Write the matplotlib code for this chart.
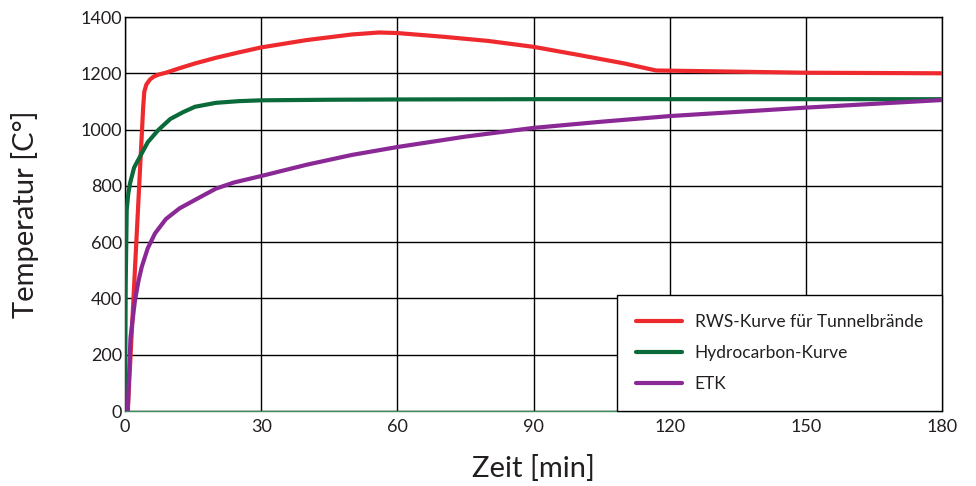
import numpy as np
import matplotlib.pyplot as plt

# Werte (Zeit in min, Temperatur in °C)
rws_zeit = [0.6, 4.0, 4.25, 4.7, 5.5, 6.3, 7.3, 9.0, 12, 15.4, 20, 25, 30, 40, 50, 56, 60, 70, 80, 90, 100, 110, 117, 130, 150, 180]
rws_temp = [0, 1080, 1135, 1160, 1178, 1188, 1195, 1202, 1218, 1235, 1255, 1274, 1292, 1318, 1338, 1345, 1343, 1330, 1315, 1294, 1265, 1235, 1210, 1207, 1202, 1200]

hc_zeit = [0.0, 0.15, 0.37, 0.7, 1.1, 2.0, 3.3, 5.0, 7.3, 10, 12.8, 15.4, 20, 25, 30, 45, 60, 90, 120, 180]
hc_temp = [0, 450, 714, 770, 809, 865, 904, 955, 998, 1038, 1062, 1081, 1095, 1101, 1104, 1106, 1107, 1108, 1108, 1108]

etk_zeit = [0.6, 1.2, 2.2, 3.0, 3.7, 5.0, 6.6, 9.0, 12, 15.4, 20, 24, 30, 40, 50, 60, 75, 90, 105, 120, 150, 180]
etk_temp = [0, 260, 394, 465, 513, 578, 631, 682, 720, 750, 790, 812, 835, 875, 910, 938, 975, 1006, 1028, 1048, 1078, 1105]

x_ticks = [0, 30, 60, 90, 120, 150, 180]
y_ticks = [0, 200, 400, 600, 800, 1000, 1200, 1400]

plt.rcParams['font.family'] = ['Lato', 'DejaVu Sans']

fig = plt.figure(figsize=(9.76, 4.86), dpi=100)
ax = fig.add_axes([0.1281, 0.1543, 0.8371, 0.8107])

ax.plot(rws_zeit, rws_temp, color='#ee2a2f', lw=3.0, label='RWS-Kurve für Tunnelbrände', solid_capstyle='round', zorder=3)
ax.plot(hc_zeit, hc_temp, color='#0b6a3a', lw=3.0, label='Hydrocarbon-Kurve', solid_capstyle='round', zorder=3)
ax.plot(etk_zeit, etk_temp, color='#8a2896', lw=3.0, label='ETK', solid_capstyle='round', zorder=3)

ax.set_xlim(0, 180)
ax.set_ylim(0, 1400)
ax.set_xticks(x_ticks)
ax.set_yticks(y_ticks)
ax.tick_params(length=0, labelsize=13, colors='#231f20')
ax.tick_params(axis='x', pad=6)
ax.tick_params(axis='y', pad=2)
ax.grid(True, color='black', lw=1.0)
for s in ax.spines.values():
    s.set_color('black')
    s.set_linewidth(1.0)
ax.spines['bottom'].set_color('#3d8a5a')

ax.set_xlabel('Zeit [min]', fontsize=21, color='#231f20', labelpad=14)
ax.set_ylabel('Temperatur [C°]', fontsize=21, color='#231f20', labelpad=30)

leg = ax.legend(loc='lower right', bbox_to_anchor=(1.0, 0.0), borderaxespad=0, fontsize=12.5,
                frameon=True, fancybox=False, edgecolor='black', framealpha=1,
                handlelength=2.65, handletextpad=0.75, labelspacing=0.85, borderpad=1.1)
leg.get_frame().set_linewidth(1.0)
for t in leg.get_texts():
    t.set_color('#231f20')

fig.savefig('out.png', dpi=100)
